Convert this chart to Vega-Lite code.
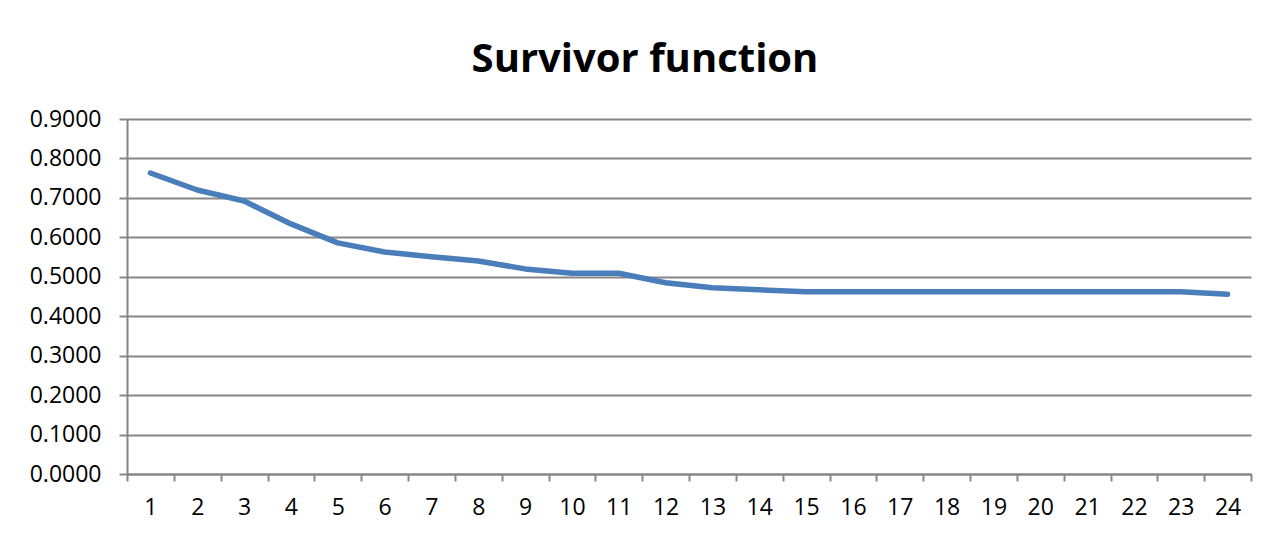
{
  "$schema": "https://vega.github.io/schema/vega-lite/v6.json",
  "autosize": "none",
  "width": 1124,
  "height": 355,
  "padding": {"left": 127, "top": 119, "right": 27, "bottom": 62},
  "background": "white",
  "title": {
    "text": "Survivor function",
    "font": "Open Sans",
    "fontSize": 40,
    "fontWeight": "bold",
    "color": "#000000",
    "anchor": "middle",
    "dx": -44,
    "offset": 28
  },
  "config": {
    "view": {"stroke": null},
    "axis": {
      "labelFont": "Open Sans",
      "labelFontSize": 23,
      "labelColor": "#000000",
      "domainColor": "#868686",
      "domainWidth": 2,
      "tickColor": "#868686",
      "tickWidth": 2,
      "gridColor": "#868686",
      "gridWidth": 2,
      "title": null
    }
  },
  "data": {
    "values": [
      {"t": 1, "s": 0.763},
      {"t": 2, "s": 0.720},
      {"t": 3, "s": 0.692},
      {"t": 4, "s": 0.634},
      {"t": 5, "s": 0.586},
      {"t": 6, "s": 0.563},
      {"t": 7, "s": 0.551},
      {"t": 8, "s": 0.540},
      {"t": 9, "s": 0.520},
      {"t": 10, "s": 0.509},
      {"t": 11, "s": 0.509},
      {"t": 12, "s": 0.485},
      {"t": 13, "s": 0.472},
      {"t": 14, "s": 0.467},
      {"t": 15, "s": 0.462},
      {"t": 16, "s": 0.462},
      {"t": 17, "s": 0.462},
      {"t": 18, "s": 0.462},
      {"t": 19, "s": 0.462},
      {"t": 20, "s": 0.462},
      {"t": 21, "s": 0.462},
      {"t": 22, "s": 0.462},
      {"t": 23, "s": 0.462},
      {"t": 24, "s": 0.456}
    ]
  },
  "mark": {"type": "line", "color": "#4A7EBB", "strokeWidth": 5.5, "strokeCap": "round", "strokeJoin": "round"},
  "encoding": {
    "x": {
      "field": "t",
      "type": "ordinal",
      "bandPosition": 0.5,
      "scale": {"type": "band", "paddingInner": 0, "paddingOuter": 0},
      "axis": {
        "labelAngle": 0,
        "tickBand": "extent",
        "tickSize": 7,
        "labelPadding": 15,
        "grid": false
      }
    },
    "y": {
      "field": "s",
      "type": "quantitative",
      "scale": {"domain": [0, 0.9], "nice": false},
      "axis": {
        "values": [0, 0.1, 0.2, 0.3, 0.4, 0.5, 0.6, 0.7, 0.8, 0.9],
        "format": ".4f",
        "tickSize": 8,
        "labelPadding": 18,
        "grid": true
      }
    }
  }
}
